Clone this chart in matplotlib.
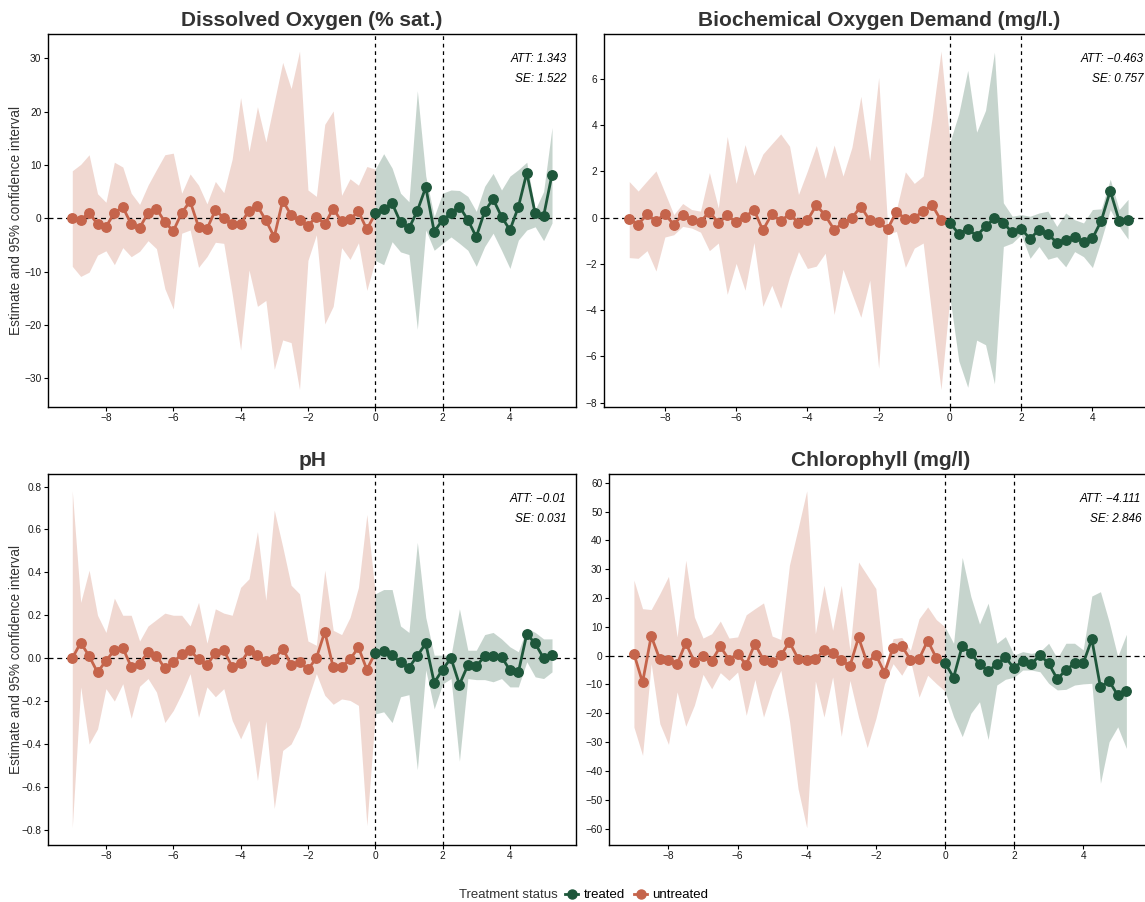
import numpy as np
import matplotlib
matplotlib.use('Agg')
import matplotlib.pyplot as plt
from matplotlib.lines import Line2D
from matplotlib.ticker import FuncFormatter

plt.rcParams['font.family'] = ['Liberation Sans', 'DejaVu Sans']

W, H = 1145, 902
untreated_color = '#C5644B'
treated_color = '#1E573B'
band_alpha = 0.25

# event time in years relative to treatment, quarterly steps
event_time_pre = np.arange(-9, 0, 0.25)
event_time_post = np.arange(0, 5.5, 0.25)

# Dissolved Oxygen (% sat.)
do_pre_est = [0.0, -0.3, 1.0, -1.1, -1.6, 1.0, 2.1, -1.1, -1.8, 1.0, 1.8, -0.7, -2.4, 1.0, 3.2, -1.6, -2.0, 1.5,
              0.1, -1.1, -1.0, 1.4, 2.3, -0.4, -3.5, 3.3, 0.6, -0.4, -1.4, 0.3, -1.1, 1.8, -0.6, -0.2, 1.3, -2.1]
do_pre_lo = [-9.0, -10.9, -10.1, -6.9, -6.1, -8.7, -5.5, -7.2, -6.2, -4.2, -5.7, -13.2, -17.0, -2.8, -2.2, -9.2,
             -7.2, -4.5, -4.7, -14.2, -24.7, -9.7, -16.5, -15.4, -28.3, -22.8, -23.3, -32.1, -7.9, -3.1, -19.8,
             -16.5, -5.5, -7.7, -4.6, -13.5]
do_pre_hi = [8.9, 10.1, 11.9, 4.6, 3.0, 10.5, 9.6, 4.7, 2.6, 6.2, 9.1, 11.9, 12.2, 4.7, 8.3, 6.2, 2.7, 6.9, 4.8,
             11.1, 22.6, 12.5, 20.9, 14.3, 21.8, 29.2, 24.3, 31.3, 5.3, 4.1, 17.6, 20.1, 4.3, 7.4, 6.2, 9.7]
do_post_est = [0.9, 1.8, 2.8, -0.75, -1.9, 1.4, 5.8, -2.5, -0.3, 0.9, 2.2, -0.3, -3.5, 1.3, 3.6, 0.3, -2.2, 2.1,
               8.5, 0.9, 0.4, 8.2]
do_post_lo = [-7.9, -8.7, -4.4, -6.3, -6.8, -20.8, -2.2, -6.0, -4.7, -3.5, -4.7, -6.0, -9.0, -5.3, -2.8, -6.0,
              -9.4, -4.1, -2.2, -1.6, -4.2, -0.9]
do_post_hi = [9.2, 12.1, 9.4, 4.7, 3.1, 23.9, 7.9, 0.3, 4.7, 5.3, 5.2, 4.1, 1.3, 6.0, 8.4, 5.3, 7.9, 9.1, 10.5,
              1.6, 5.0, 17.0]

# Biochemical Oxygen Demand (mg/l.)
bod_pre_est = [-0.07, -0.3, 0.15, -0.15, 0.15, -0.3, 0.13, -0.09, -0.19, 0.26, -0.23, 0.1, -0.2, 0.01, 0.35,
               -0.55, 0.15, -0.15, 0.15, -0.22, -0.12, 0.54, 0.1, -0.52, -0.23, -0.01, 0.48, -0.12, -0.2, -0.5,
               0.26, -0.06, -0.01, 0.28, 0.55, -0.12]
bod_pre_lo = [-1.73, -1.76, -1.43, -2.31, -0.84, -0.74, -0.38, -0.45, -0.63, -1.43, -1.1, -3.32, -1.98, -3.14,
              -1.08, -3.84, -2.93, -3.92, -2.56, -1.47, -2.2, -2.1, -1.54, -4.19, -2.24, -3.29, -4.31, -2.71,
              -6.52, -0.7, -0.6, -2.15, -1.32, -1.1, -4.31, -7.44]
bod_pre_hi = [1.56, 1.15, 1.59, 2.02, 1.08, 0.13, 0.61, 0.35, 0.28, 1.95, 0.42, 3.51, 1.48, 3.16, 1.83, 2.75,
              3.19, 3.62, 3.09, 1.0, 2.02, 3.12, 1.7, 3.14, 1.8, 3.04, 5.25, 2.46, 6.06, -0.3, 0.35, 1.98, 1.48,
              1.8, 4.3, 7.2]
bod_post_est = [-0.23, -0.7, -0.48, -0.79, -0.38, -0.03, -0.23, -0.64, -0.48, -0.92, -0.52, -0.71, -1.08, -0.96,
                -0.82, -1.05, -0.9, -0.13, 1.16, -0.13, -0.09]
bod_post_lo = [-3.44, -6.2, -7.34, -5.3, -5.5, -7.19, -1.25, -1.1, -0.74, -1.76, -1.25, -1.8, -1.69, -2.13,
               -1.47, -1.69, -2.16, -0.96, 0.35, -0.38, -0.93]
bod_post_hi = [3.26, 4.5, 6.37, 3.7, 4.64, 7.16, 0.64, 0.06, 0.13, 0.06, 0.2, 0.28, -0.38, 0.2, -0.09, -0.23,
               0.35, 0.38, 1.66, 0.35, 0.79]

# pH
ph_pre_est = [0.0, 0.072, 0.01, -0.066, -0.012, 0.037, 0.048, -0.04, -0.025, 0.028, 0.012, -0.048, -0.02, 0.02,
              0.036, -0.005, -0.033, 0.025, 0.037, -0.04, -0.022, 0.036, 0.016, -0.012, -0.005, 0.045, -0.03,
              -0.02, -0.052, 0.0, 0.123, -0.042, -0.04, -0.005, 0.05, -0.053]
ph_pre_lo = [-0.79, -0.134, -0.4, -0.33, -0.142, -0.2, -0.119, -0.28, -0.131, -0.095, -0.158, -0.3, -0.244,
             -0.165, -0.072, -0.275, -0.134, -0.18, -0.142, -0.29, -0.376, -0.29, -0.57, -0.293, -0.7, -0.43,
             -0.4, -0.32, -0.19, -0.072, -0.173, -0.215, -0.19, -0.197, -0.22, -0.78]
ph_pre_hi = [0.78, 0.26, 0.41, 0.2, 0.12, 0.28, 0.2, 0.2, 0.08, 0.15, 0.18, 0.21, 0.2, 0.2, 0.15, 0.26, 0.07,
             0.23, 0.21, 0.2, 0.33, 0.37, 0.59, 0.27, 0.69, 0.52, 0.34, 0.3, 0.08, 0.06, 0.41, 0.13, 0.11, 0.19,
             0.33, 0.67]
ph_post_est = [0.025, 0.034, 0.014, -0.02, -0.044, 0.011, 0.069, -0.114, -0.053, 0.0, -0.123, -0.033, -0.037,
               0.009, 0.012, 0.006, -0.056, -0.066, 0.112, 0.069, 0.0, 0.017]
ph_post_lo = [-0.26, -0.25, -0.3, -0.18, -0.17, -0.52, -0.055, -0.236, -0.12, -0.095, -0.48, -0.095, -0.1, -0.1,
              -0.11, -0.095, -0.134, -0.134, -0.017, -0.087, -0.095, -0.064]
ph_post_hi = [0.3, 0.32, 0.32, 0.15, 0.12, 0.54, 0.19, 0.014, 0.014, 0.014, 0.23, 0.037, 0.037, 0.11, 0.12, 0.09,
              0.053, 0.03, 0.14, 0.12, 0.09, 0.09]

# Chlorophyll (mg/l)
chl_pre_est = [0.7, -9.3, 6.8, -1.3, -1.6, -2.9, 4.4, -2.2, 0.0, -1.9, 3.2, -1.4, 0.5, -3.1, 4.1, -1.5, -2.3,
               0.1, 4.7, -1.0, -1.6, -1.3, 1.9, 1.0, -1.6, -3.6, 6.3, -2.5, 0.3, -5.9, 2.8, 3.4, -1.4, -1.2, 5.2,
               -0.8]
chl_pre_lo = [-24.8, -34.6, -2.8, -23.6, -30.8, -12.6, -24.5, -17.2, -6.5, -11.5, -5.9, -8.6, -5.7, -20.7, -8.3,
              -21.3, -12.0, -5.1, -22.5, -46.2, -59.7, -8.8, -21.3, -7.4, -28.0, -8.6, -21.3, -31.9, -21.9, -9.7,
              -2.8, -6.8, -1.6, -14.4, -6.8, -9.7]
chl_pre_hi = [26.2, 16.3, 16.0, 21.5, 27.5, 6.5, 33.1, 13.4, 6.1, 7.6, 12.0, 6.1, 6.5, 14.2, 16.3, 18.3, 6.8,
              5.6, 31.4, 44.1, 57.2, 7.6, 24.4, 8.8, 24.4, 1.9, 32.5, 27.9, 23.3, -3.9, 5.9, 6.3, 1.9, 12.8, 16.9,
              12.5]
chl_post_est = [-2.4, -7.6, 3.4, 0.8, -2.9, -5.4, -2.9, -0.6, -4.4, -1.7, -2.9, 0.2, -2.7, -8.1, -5.0, -2.7,
                -2.7, 5.7, -11.0, -8.8, -13.7, -12.3]
chl_post_lo = [-12.3, -21.2, -28.1, -20.0, -16.0, -29.1, -10.2, -8.2, -7.5, -5.0, -5.0, -5.6, -9.6, -11.9,
               -11.7, -10.2, -9.8, -9.6, -44.3, -29.9, -24.7, -32.2]
chl_post_hi = [10.0, 4.3, 34.1, 20.5, 11.0, 18.2, 4.3, 6.6, 0.2, 1.4, 0.8, 1.4, 4.3, -0.9, 4.3, 4.3, 2.0, 20.7,
               22.2, 11.8, -0.3, 7.4]

titles = ['Dissolved Oxygen (% sat.)', 'Biochemical Oxygen Demand (mg/l.)', 'pH', 'Chlorophyll (mg/l)']
att_labels = ['1.343', '\u22120.463', '\u22120.01', '\u22124.111']
se_labels = ['1.522', '0.757', '0.031', '2.846']
yticks = [np.arange(-30, 31, 10), np.arange(-8, 7, 2), np.arange(-0.8, 0.81, 0.2), np.arange(-60, 61, 10)]

# axes boxes in pixels: left, top, right, bottom (right column runs past the canvas edge)
boxes = [(48.3, 34.3, 576, 406.5), (604.3, 34.3, 1153, 406.5),
         (48.3, 474, 576, 844.5), (609.3, 474, 1151, 844.5)]
ylabel_x = 23  # px from the left edge, same for both rows


def one_decimal(v, pos):
    s = f'{v:.1f}'
    if s == '-0.0':
        s = '0.0'
    return s.replace('-', '\u2212')


def draw_panel(ax, box, title, pre, post, att, se, ticks, yfmt=None, ylabel=False):
    pre_est, pre_lo, pre_hi = pre
    post_est, post_lo, post_hi = post
    t_pre = event_time_pre
    t_post = event_time_post[:len(post_est)]
    # untreated band and line carry on to the first treated period
    t_u = np.append(t_pre, t_post[0])
    ax.fill_between(t_u, pre_lo + [post_lo[0]], pre_hi + [post_hi[0]],
                    color=untreated_color, alpha=band_alpha, lw=0, zorder=1)
    ax.fill_between(t_post, post_lo, post_hi, color=treated_color, alpha=band_alpha, lw=0, zorder=1)

    ax.axhline(0, color='black', lw=0.9, ls=(0, (4, 3)), zorder=2)
    for xv in (0, 2):
        ax.axvline(xv, color='black', lw=0.9, ls=(0, (3, 3)), zorder=2)

    ax.plot(t_u, pre_est + [post_est[0]], color=untreated_color, lw=2, zorder=3)
    ax.plot(t_pre, pre_est, 'o', ms=6.8, color=untreated_color, zorder=4)
    ax.plot(t_post, post_est, '-o', ms=6.8, lw=2, color=treated_color, zorder=4)

    # ggplot-style 5% expansion
    x0, x1 = t_pre[0], t_post[-1]
    xpad = 0.05 * (x1 - x0)
    ax.set_xlim(x0 - xpad, x1 + xpad)
    y0 = min(min(pre_lo), min(post_lo))
    y1 = max(max(pre_hi), max(post_hi))
    ypad = 0.05 * (y1 - y0)
    ax.set_ylim(y0 - ypad, y1 + ypad)

    ax.set_xticks([-8, -6, -4, -2, 0, 2, 4])
    ax.set_yticks(ticks)
    if yfmt:
        ax.yaxis.set_major_formatter(FuncFormatter(yfmt))
    ax.tick_params(labelsize=7.3, length=3, width=0.8, colors='black', labelcolor='#1a1a1a', pad=2)
    for sp in ax.spines.values():
        sp.set_color('black')
        sp.set_linewidth(1.0)

    ax.set_title(title, fontsize=15, fontweight='bold', color='#333333', pad=6)
    if ylabel:
        ax.set_ylabel('Estimate and 95% confidence interval', fontsize=9.8, color='#333333')
        left, _, right, _ = box
        ax.yaxis.set_label_coords((ylabel_x - left) / (right - left), 0.5)

    ax.annotate(f'ATT: {att}', xy=(1, 1), xycoords='axes fraction', xytext=(-7, -18),
                textcoords='offset points', ha='right', va='center', fontsize=8.5, style='italic')
    ax.annotate(f'SE: {se}', xy=(1, 1), xycoords='axes fraction', xytext=(-7, -32.5),
                textcoords='offset points', ha='right', va='center', fontsize=8.5, style='italic')


fig = plt.figure(figsize=(W / 100, H / 100), dpi=100)
fig.patch.set_facecolor('white')

series = [
    ((do_pre_est, do_pre_lo, do_pre_hi), (do_post_est, do_post_lo, do_post_hi), None),
    ((bod_pre_est, bod_pre_lo, bod_pre_hi), (bod_post_est, bod_post_lo, bod_post_hi), None),
    ((ph_pre_est, ph_pre_lo, ph_pre_hi), (ph_post_est, ph_post_lo, ph_post_hi), one_decimal),
    ((chl_pre_est, chl_pre_lo, chl_pre_hi), (chl_post_est, chl_post_lo, chl_post_hi), None),
]

for i, (pre, post, yfmt) in enumerate(series):
    left, top, right, bottom = boxes[i]
    ax = fig.add_axes([left / W, 1 - bottom / H, (right - left) / W, (bottom - top) / H])
    draw_panel(ax, boxes[i], titles[i], pre, post, att_labels[i], se_labels[i], yticks[i],
               yfmt=yfmt, ylabel=(i % 2 == 0))

# legend along the bottom
fig.text(558 / W, 1 - 895 / H, 'Treatment status', ha='right', va='center', fontsize=9.5, color='#333333')
handles = [Line2D([], [], color=treated_color, marker='o', ms=6.5, lw=2),
           Line2D([], [], color=untreated_color, marker='o', ms=6.5, lw=2)]
fig.legend(handles, ['treated', 'untreated'], loc='center left', bbox_to_anchor=(565 / W, 1 - 895 / H),
           ncol=2, frameon=False, fontsize=9.5, handlelength=1.0, handletextpad=0.4,
           columnspacing=0.7, borderaxespad=0, borderpad=0)

fig.savefig('out.png', dpi=100, facecolor='white')
